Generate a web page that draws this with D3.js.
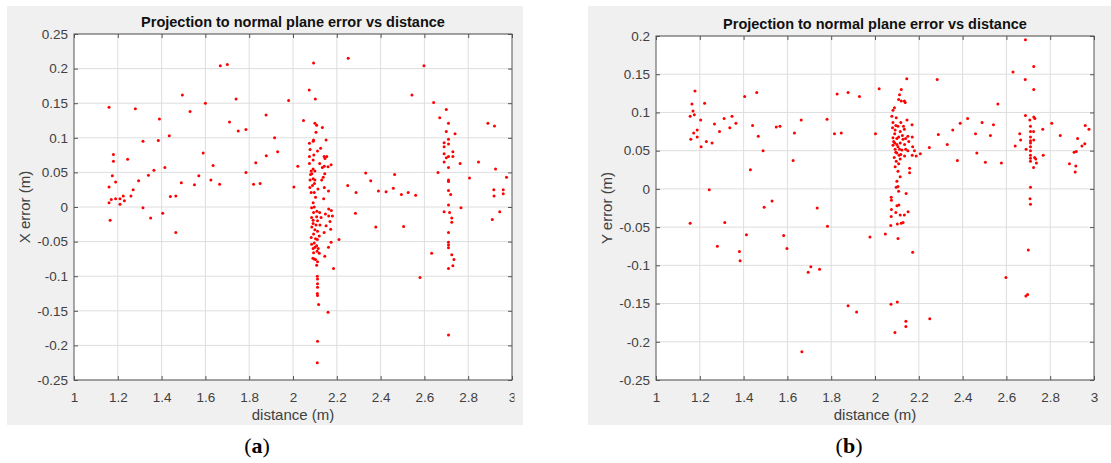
<!DOCTYPE html>
<html>
<head>
<meta charset="utf-8">
<script src="https://cdn.jsdelivr.net/npm/d3@7"></script>
<style>
  body { margin: 0; background: #fff; }
  text { font-family: "Liberation Sans", Arial, Helvetica, sans-serif; }
</style>
</head>
<body>
<div id="chart"></div>
<script>
// tick values
var xTicks = [1, 1.2, 1.4, 1.6, 1.8, 2, 2.2, 2.4, 2.6, 2.8, 3];
var yTicksA = [-0.25, -0.2, -0.15, -0.1, -0.05, 0, 0.05, 0.1, 0.15, 0.2, 0.25];
var yTicksB = [-0.25, -0.2, -0.15, -0.1, -0.05, 0, 0.05, 0.1, 0.15, 0.2];

var titleText = "Projection to normal plane error vs distance";
var xLabel = "distance (m)";
var yLabelA = "X error (m)";
var yLabelB = "Y error (m)";

// (a) [distance, X error]
var pointsA = [
  [1.16,0.144],[1.16,0.029],[1.16,0.006],[1.165,-0.019],[1.17,0.011],[1.18,0.076],[1.18,0.066],
  [1.175,0.045],[1.19,0.036],[1.19,0.012],[1.21,0.012],[1.21,0.004],[1.225,0.016],[1.23,0.009],
  [1.245,0.069],[1.26,0.016],[1.27,0.025],[1.28,0.142],[1.295,0.038],[1.315,0.095],[1.315,-0.001],
  [1.34,0.046],[1.35,-0.016],[1.365,0.053],[1.385,0.096],[1.39,0.127],[1.405,-0.009],[1.415,0.057],
  [1.435,0.103],[1.44,0.015],[1.465,0.016],[1.465,-0.037],[1.49,0.035],[1.495,0.162],[1.53,0.138],
  [1.55,0.032],[1.57,0.045],[1.59,0.078],[1.6,0.15],[1.625,0.039],[1.635,0.06],[1.665,0.033],
  [1.668,0.204],[1.7,0.206],[1.71,0.123],[1.74,0.156],[1.75,0.11],[1.785,0.112],[1.785,0.05],
  [1.82,0.033],[1.83,0.064],[1.85,0.034],[1.877,0.133],[1.878,0.074],[1.916,0.1],[1.93,0.08],
  [1.98,0.154],[2.004,0.029],[2.022,0.059],[2.048,0.125],[2.074,0.169],[2.094,0.208],[2.102,0.156],
  [2.252,0.215],[2.25,0.031],[2.288,0.021],[2.285,-0.009],[2.21,-0.047],[2.185,-0.089],[2.16,-0.152],
  [2.332,0.049],[2.355,0.038],[2.378,-0.029],[2.39,0.023],[2.425,0.022],[2.458,0.027],[2.464,0.047],
  [2.495,0.018],[2.505,-0.028],[2.526,0.021],[2.543,0.162],[2.56,0.017],[2.58,-0.102],[2.598,0.204],
  [2.633,-0.067],[2.642,0.151],[2.662,0.05],[2.67,0.129],
  // cluster near 2.1 m
  [2.1,0.121],[2.108,0.118],[2.134,0.115],[2.105,0.108],[2.151,0.097],[2.094,0.097],[2.092,0.095],
  [2.075,0.092],[2.126,0.085],[2.112,0.081],[2.078,0.083],[2.095,0.075],[2.075,0.073],[2.142,0.073],
  [2.154,0.073],[2.146,0.07],[2.092,0.068],[2.122,0.063],[2.075,0.063],[2.174,0.061],[2.143,0.059],
  [2.16,0.058],[2.134,0.057],[2.092,0.055],[2.083,0.052],[2.1,0.052],[2.086,0.048],[2.145,0.048],
  [2.138,0.043],[2.08,0.047],[2.078,0.039],[2.092,0.041],[2.1,0.039],[2.131,0.039],[2.098,0.034],
  [2.089,0.031],[2.077,0.028],[2.143,0.028],[2.114,0.026],[2.162,0.023],[2.097,0.021],[2.083,0.021],
  [2.103,0.014],[2.14,0.012],[2.092,0.006],[2.097,0.0],[2.085,-0.001],[2.163,-0.003],[2.175,-0.005],
  [2.109,-0.006],[2.094,-0.008],[2.122,-0.008],[2.148,-0.01],[2.163,-0.013],[2.18,-0.013],[2.108,-0.014],
  [2.128,-0.015],[2.085,-0.015],[2.092,-0.019],[2.112,-0.02],[2.169,-0.021],[2.092,-0.024],[2.105,-0.026],
  [2.123,-0.026],[2.151,-0.027],[2.086,-0.029],[2.172,-0.032],[2.1,-0.033],[2.112,-0.035],[2.142,-0.037],
  [2.094,-0.039],[2.083,-0.044],[2.12,-0.042],[2.103,-0.046],[2.111,-0.047],[2.174,-0.051],[2.097,-0.052],
  [2.085,-0.054],[2.108,-0.056],[2.1,-0.058],[2.115,-0.06],[2.092,-0.06],[2.162,-0.058],[2.11,-0.064],
  [2.094,-0.066],[2.12,-0.067],[2.145,-0.071],[2.097,-0.075],[2.103,-0.076],[2.091,-0.074],[2.112,-0.079],
  [2.108,-0.084],[2.111,-0.1],[2.112,-0.104],[2.112,-0.111],[2.112,-0.116],[2.111,-0.125],[2.112,-0.128],
  [2.117,-0.141],[2.112,-0.194],[2.111,-0.225],
  // cluster near 2.7 m
  [2.7,0.141],[2.71,0.121],[2.7,0.109],[2.74,0.106],[2.69,0.093],[2.71,0.098],[2.71,0.091],[2.69,0.087],
  [2.73,0.08],[2.69,0.077],[2.7,0.071],[2.73,0.073],[2.71,0.073],[2.69,0.065],[2.71,0.057],[2.71,0.039],
  [2.71,0.037],[2.71,0.024],[2.72,0.018],[2.71,0.003],[2.69,-0.007],[2.715,-0.008],[2.725,-0.016],
  [2.725,-0.022],[2.71,-0.037],[2.71,-0.051],[2.71,-0.055],[2.71,-0.059],[2.725,-0.069],[2.735,-0.076],
  [2.73,-0.085],[2.71,-0.089],[2.71,-0.185],[2.767,-0.001],[2.763,0.063],
  [2.806,0.042],[2.847,0.065],[2.89,0.121],[2.92,0.117],[2.925,0.055],[2.917,0.025],[2.918,0.016],
  [2.91,-0.018],[2.944,-0.007],[2.96,0.025],[2.96,0.019],[2.975,0.043]
];

// (b) [distance, Y error]
var pointsB = [
  [1.156,0.095],[1.164,0.111],[1.178,0.128],[1.169,0.102],[1.175,0.097],[1.159,0.065],[1.156,-0.045],
  [1.172,0.073],[1.188,0.077],[1.188,0.068],[1.204,0.09],[1.206,0.055],[1.222,0.112],[1.23,0.062],
  [1.243,-0.001],[1.256,0.06],[1.267,0.085],[1.28,-0.075],[1.29,0.075],[1.311,0.092],[1.314,-0.044],
  [1.337,0.08],[1.347,0.095],[1.365,0.086],[1.381,-0.082],[1.384,-0.094],[1.405,0.121],[1.413,-0.06],
  [1.431,0.025],[1.441,0.083],[1.46,0.126],[1.467,0.069],[1.489,0.05],[1.494,-0.024],[1.53,-0.016],
  [1.549,0.081],[1.566,0.082],[1.583,-0.061],[1.598,-0.078],[1.626,0.037],[1.632,0.073],[1.663,0.09],
  [1.666,-0.213],[1.695,-0.109],[1.707,-0.102],[1.736,-0.025],[1.747,-0.105],[1.781,0.091],[1.783,-0.049],
  [1.815,0.072],[1.827,0.124],[1.846,0.073],[1.877,0.126],[1.877,-0.153],[1.916,-0.161],[1.929,0.121],
  [1.977,-0.063],[2.002,0.072],[2.019,0.131],[2.047,-0.059],[2.073,-0.151],[2.102,-0.148],[2.091,-0.188],
  [2.141,-0.173],[2.141,-0.18],[2.172,-0.083],[2.207,0.046],[2.248,0.054],[2.284,0.143],[2.289,0.071],
  [2.25,-0.17],[2.33,0.058],[2.355,0.077],[2.376,0.037],[2.389,0.086],[2.423,0.092],[2.459,0.072],
  [2.465,0.047],[2.489,0.087],[2.504,0.035],[2.527,0.07],[2.541,0.084],[2.561,0.111],[2.577,0.034],
  [2.598,-0.116],[2.63,0.153],[2.64,0.056],[2.661,0.072],[2.665,0.064],
  // cluster near 2.1 m
  [2.145,0.144],[2.12,0.13],[2.112,0.123],[2.108,0.117],[2.134,0.115],[2.138,0.113],[2.12,0.115],
  [2.089,0.106],[2.082,0.103],[2.077,0.095],[2.097,0.093],[2.146,0.09],[2.082,0.087],[2.118,0.087],
  [2.169,0.084],[2.105,0.082],[2.08,0.08],[2.134,0.078],[2.092,0.077],[2.115,0.075],[2.15,0.069],
  [2.17,0.068],[2.082,0.067],[2.1,0.066],[2.128,0.065],[2.09,0.06],[2.115,0.06],[2.154,0.062],
  [2.135,0.058],[2.082,0.057],[2.105,0.055],[2.172,0.055],[2.092,0.052],[2.123,0.051],[2.15,0.05],
  [2.18,0.05],[2.1,0.047],[2.11,0.044],[2.135,0.043],[2.17,0.044],[2.188,0.043],[2.088,0.041],
  [2.115,0.039],[2.097,0.036],[2.108,0.033],[2.092,0.029],[2.158,0.027],[2.158,0.021],[2.105,0.023],
  [2.115,0.016],[2.1,0.01],[2.105,0.003],[2.097,0.002],[2.108,-0.003],[2.142,-0.006],[2.074,-0.011],
  [2.075,-0.015],[2.1,-0.022],[2.109,-0.021],[2.075,-0.027],[2.095,-0.031],[2.151,-0.03],[2.115,-0.034],
  [2.134,-0.034],[2.074,-0.036],[2.128,-0.044],[2.12,-0.045],[2.102,-0.046],[2.072,-0.048],[2.105,-0.065],
  [2.09,0.072],[2.1,0.058],[2.125,0.07],[2.14,0.052],[2.095,0.048],[2.13,0.082],[2.085,0.062],
  [2.118,0.045],[2.108,0.068],[2.095,0.083],[2.14,0.066],[2.112,0.052],
  // cluster near 2.7 m
  [2.687,0.195],[2.686,0.143],[2.687,0.096],[2.69,0.052],[2.7,-0.08],[2.689,-0.14],[2.697,-0.138],
  [2.71,0.082],[2.71,0.075],[2.71,0.068],[2.71,0.063],[2.71,0.06],[2.71,0.055],[2.71,0.05],[2.71,0.044],
  [2.71,0.04],[2.71,0.036],[2.71,0.002],[2.708,-0.013],[2.71,-0.02],[2.707,0.09],[2.725,0.094],
  [2.73,0.092],[2.724,0.075],[2.725,0.064],[2.725,0.16],[2.725,0.13],[2.729,0.041],[2.734,0.039],
  [2.724,0.028],[2.737,0.034],[2.766,0.078],[2.768,0.044],
  [2.807,0.086],[2.846,0.07],[2.888,0.033],[2.909,0.048],[2.919,0.049],[2.917,0.03],[2.914,0.022],
  [2.925,0.066],[2.945,0.056],[2.958,0.059],[2.96,0.083],[2.977,0.078]
];

var W = 1111, H = 463;
var svg = d3.select("#chart").append("svg")
  .attr("width", W)
  .attr("height", H);

var panels = [
  { id: "a", bg: [7, 6, 516, 419], left: 74, top: 34, right: 512, bottom: 380,
    yDomain: [-0.25, 0.25], yTicks: yTicksA, yLabel: yLabelA, yLabelX: 25,
    points: pointsA, clipX: 514, caption: "a", capX: 257 },
  { id: "b", bg: [588, 6, 523, 419], left: 656, top: 36, right: 1094, bottom: 380,
    yDomain: [-0.25, 0.2], yTicks: yTicksB, yLabel: yLabelB, yLabelX: 607,
    points: pointsB, clipX: null, caption: "b", capX: 849 }
];

panels.forEach(function (p) {
  var w = p.right - p.left, h = p.bottom - p.top;
  var x = d3.scaleLinear().domain([1, 3]).range([0, w]);
  var y = d3.scaleLinear().domain(p.yDomain).range([h, 0]);
  var fmt = function (d) { return String(d); };

  // grey figure background
  svg.append("rect")
    .attr("x", p.bg[0]).attr("y", p.bg[1])
    .attr("width", p.bg[2]).attr("height", p.bg[3])
    .attr("fill", "#f0f0f0");

  var g = svg.append("g")
    .attr("transform", "translate(" + p.left + "," + p.top + ")");

  g.append("rect").attr("width", w).attr("height", h).attr("fill", "#fff");

  // grid
  g.append("g")
    .selectAll("line").data(xTicks.slice(1, -1)).enter().append("line")
    .attr("x1", function (d) { return x(d); }).attr("x2", function (d) { return x(d); })
    .attr("y1", 0).attr("y2", h)
    .attr("stroke", "#dedede").attr("stroke-width", 1);
  g.append("g")
    .selectAll("line").data(p.yTicks).enter().append("line")
    .attr("x1", 0).attr("x2", w)
    .attr("y1", function (d) { return y(d); }).attr("y2", function (d) { return y(d); })
    .attr("stroke", "#dedede").attr("stroke-width", 1);

  // axes with inward ticks on all four sides
  var xb = g.append("g")
    .attr("transform", "translate(0," + h + ")")
    .call(d3.axisBottom(x).tickValues(xTicks).tickFormat(fmt)
      .tickSizeInner(-4).tickSizeOuter(0).tickPadding(12));
  g.append("g")
    .call(d3.axisLeft(y).tickValues(p.yTicks).tickFormat(fmt)
      .tickSizeInner(-4).tickSizeOuter(0).tickPadding(6));
  g.append("g")
    .call(d3.axisTop(x).tickValues(xTicks).tickFormat("")
      .tickSizeInner(-4).tickSizeOuter(0));
  g.append("g")
    .attr("transform", "translate(" + w + ",0)")
    .call(d3.axisRight(y).tickValues(p.yTicks).tickFormat("")
      .tickSizeInner(-4).tickSizeOuter(0));

  g.selectAll(".domain").remove();
  g.selectAll(".tick line").attr("stroke", "#555");
  g.selectAll(".tick text")
    .attr("fill", "#404040")
    .style("font-size", "13.5px")
    .style("font-family", '"Liberation Sans", Arial, sans-serif');

  // the last x label of panel (a) is cut by the figure edge
  if (p.clipX) {
    var cw = p.clipX - p.left - x(3);
    svg.append("clipPath").attr("id", "clip-" + p.id)
      .append("rect").attr("x", -20).attr("y", -5).attr("width", 20 + cw).attr("height", 40);
    xb.selectAll(".tick").filter(function (d) { return d === 3; })
      .select("text").attr("clip-path", "url(#clip-" + p.id + ")");
  }

  // frame
  g.append("rect").attr("width", w).attr("height", h)
    .attr("fill", "none").attr("stroke", "#555").attr("stroke-width", 1);

  // points
  g.append("g").selectAll("circle")
    .data(p.points).enter().append("circle")
    .attr("cx", function (d) { return x(d[0]); })
    .attr("cy", function (d) { return y(d[1]); })
    .attr("r", 1.5)
    .attr("fill", "#ff0000");

  // title and labels
  g.append("text")
    .attr("x", w / 2).attr("y", -7)
    .attr("text-anchor", "middle")
    .style("font-weight", "bold").style("font-size", "14.5px")
    .attr("fill", "#111")
    .text(titleText);

  g.append("text")
    .attr("x", w / 2).attr("y", h + 40)
    .attr("text-anchor", "middle")
    .style("font-size", "15px")
    .attr("fill", "#404040")
    .text(xLabel);

  svg.append("text")
    .attr("transform", "translate(" + p.yLabelX + "," + (p.top + h / 2) + ") rotate(-90)")
    .attr("text-anchor", "middle")
    .attr("dy", "0.35em")
    .style("font-size", "15px")
    .attr("fill", "#404040")
    .text(p.yLabel);

  // caption (a)/(b)
  var cap = svg.append("text")
    .attr("x", p.capX).attr("y", 453)
    .attr("text-anchor", "middle")
    .style("font-family", '"Liberation Serif", "DejaVu Serif", serif')
    .style("font-size", "22px")
    .attr("fill", "#000");
  cap.append("tspan").text("(");
  cap.append("tspan").style("font-weight", "bold").text(p.caption);
  cap.append("tspan").text(")");
});
</script>
</body>
</html>
